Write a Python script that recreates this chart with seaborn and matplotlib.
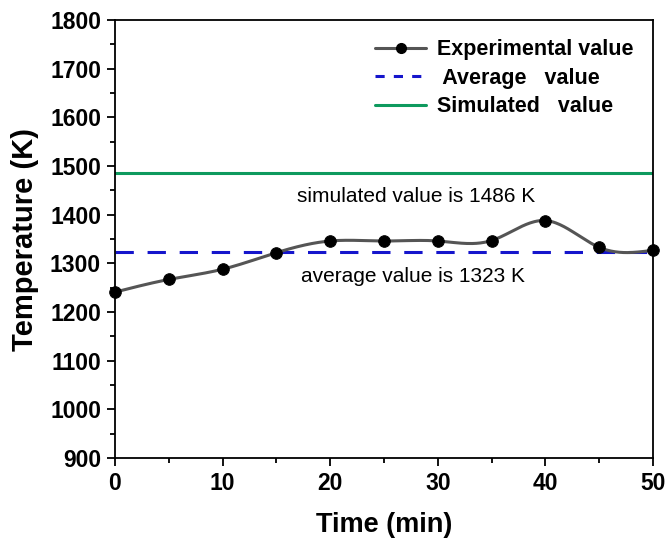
import numpy as np
import pandas as pd
import matplotlib
matplotlib.use("Agg")
import matplotlib.pyplot as plt
import seaborn as sns
from matplotlib.ticker import MultipleLocator, AutoMinorLocator
from matplotlib.lines import Line2D

time_min = [0, 5, 10, 15, 20, 25, 30, 35, 40, 45, 50]
temperature = [1241, 1267, 1288, 1322, 1346, 1346, 1346, 1347, 1388, 1333, 1327]
average_value = 1323
simulated_value = 1486


def natural_spline(x, y, n=400):
    x = np.asarray(x, float); y = np.asarray(y, float)
    k = len(x); h = np.diff(x)
    A = np.zeros((k, k)); b = np.zeros(k)
    A[0, 0] = A[-1, -1] = 1
    for i in range(1, k - 1):
        A[i, i - 1] = h[i - 1]; A[i, i] = 2 * (h[i - 1] + h[i]); A[i, i + 1] = h[i]
        b[i] = 3 * ((y[i + 1] - y[i]) / h[i] - (y[i] - y[i - 1]) / h[i - 1])
    c = np.linalg.solve(A, b)
    xs = np.linspace(x[0], x[-1], n)
    idx = np.clip(np.searchsorted(x, xs) - 1, 0, k - 2)
    dx = xs - x[idx]
    bb = (y[1:] - y[:-1]) / h - h * (2 * c[:-1] + c[1:]) / 3
    d = (c[1:] - c[:-1]) / (3 * h)
    ys = y[idx] + bb[idx] * dx + c[idx] * dx ** 2 + d[idx] * dx ** 3
    return xs, ys


sns.set_style("white")
plt.rcParams['font.family'] = ['Liberation Sans', 'DejaVu Sans']
plt.rcParams.update({"text.color": "black", "axes.labelcolor": "black",
                     "xtick.color": "black", "ytick.color": "black"})

fig = plt.figure(figsize=(6.67, 5.39), dpi=100)
ax = fig.add_axes([0.1724, 0.150, 0.8066, 0.813])

xs, ys = natural_spline(time_min, temperature)
df_curve = pd.DataFrame({"t": xs, "T": ys})
df_pts = pd.DataFrame({"t": time_min, "T": temperature})

blue = "#1515cc"
green = "#0e9a5e"

sns.lineplot(data=df_curve, x="t", y="T", ax=ax, color="#555555", lw=2.2, zorder=3)
sns.scatterplot(data=df_pts, x="t", y="T", ax=ax, color="black", s=70, edgecolor="black", zorder=4, clip_on=False)
ax.axhline(average_value, color=blue, lw=2.2, ls=(0, (6, 4.5)), zorder=2)
ax.axhline(simulated_value, color=green, lw=2.2, zorder=2)

handles = [
    Line2D([], [], color="#555555", lw=2.2, marker="o", markerfacecolor="black", markeredgecolor="black", markersize=7),
    Line2D([], [], color=blue, lw=2.2, ls=(0, (3, 3))),
    Line2D([], [], color=green, lw=2.2),
]
labels = ["Experimental value", " Average   value", "Simulated   value"]
ax.legend(handles, labels, loc="upper right", frameon=False, handlelength=2.4, handletextpad=0.5,
          prop={"weight": "bold", "size": 15.5}, borderaxespad=0.5, labelspacing=0.35)

ax.text(28, 1438, "simulated value is 1486 K", ha="center", va="center", fontsize=15)
ax.text(27.7, 1274, "average value is 1323 K", ha="center", va="center", fontsize=15)

ax.set_xlim(0, 50)
ax.set_ylim(900, 1800)
ax.xaxis.set_major_locator(MultipleLocator(10))
ax.yaxis.set_major_locator(MultipleLocator(100))
ax.xaxis.set_minor_locator(AutoMinorLocator(2))
ax.yaxis.set_minor_locator(AutoMinorLocator(2))
ax.tick_params(which="both", direction="out", bottom=True, left=True, top=False, right=False,
               width=1.3, color="black")
ax.tick_params(which="major", length=6, labelsize=16.5, pad=4, labelcolor="black")
ax.tick_params(which="minor", length=3.5)
for lab in ax.get_xticklabels() + ax.get_yticklabels():
    lab.set_fontweight("bold")
for s in ax.spines.values():
    s.set_color("black"); s.set_linewidth(1.3)
ax.set_xlabel("Time (min)", fontsize=19.5, fontweight="bold", labelpad=12, color="black")
ax.set_ylabel("Temperature (K)", fontsize=21, fontweight="bold", labelpad=8, color="black")

fig.savefig("out.png", dpi=100)
